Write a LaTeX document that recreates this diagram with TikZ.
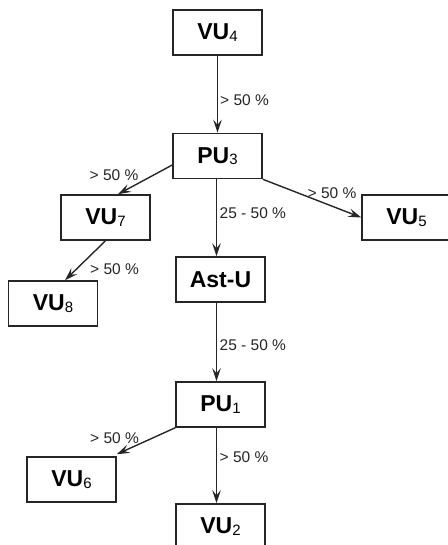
\documentclass[tikz,border=0pt]{standalone}
\usepackage{fontspec}
\setmainfont{Liberation Sans}
\usetikzlibrary{arrows.meta}
\newcommand{\unitsub}[1]{\raisebox{-1.5pt}{\fontsize{15}{15}\selectfont\mdseries #1}}
\tikzset{
  unitbox/.style={draw=black!85, line width=1.5pt, minimum width=89pt, minimum height=45pt,
    inner sep=0pt, font=\fontsize{23}{26}\selectfont\bfseries, text=black},
  flow/.style={draw=black!85, line width=1.4pt, -{Stealth[length=13pt,width=8.5pt,inset=5pt]}},
  pct/.style={font=\fontsize{15.5}{18}\selectfont, text=black!85, inner sep=0pt}
}
\begin{document}
\begin{tikzpicture}[x=1pt,y=-1pt]
\useasboundingbox (0,0) rectangle (447,545);
\node[unitbox] (VU4) at (217.5,32.5) {VU\unitsub{4}};
\node[unitbox] (PU3) at (217.5,156) {PU\unitsub{3}};
\node[unitbox] (VU7) at (105.5,217.5) {VU\unitsub{7}};
\node[unitbox] (VU5) at (406.5,217.5) {VU\unitsub{5}};
\node[unitbox] (AstU) at (220.5,279.5) {Ast-U};
\node[unitbox] (VU8) at (53,303.5) {VU\unitsub{8}};
\node[unitbox] (PU1) at (220.5,404.5) {PU\unitsub{1}};
\node[unitbox] (VU6) at (71.5,479.5) {VU\unitsub{6}};
\node[unitbox] (VU2) at (220.5,526.5) {VU\unitsub{2}};

\draw[flow] (VU4.south) -- (PU3.north);
\draw[flow] ([yshift=-9pt]PU3.west) -- ([xshift=12.5pt]VU7.north);
\draw[flow] (PU3.south east) -- (VU5.west);
\draw[flow] ([xshift=-1pt]PU3.south) -- ([xshift=-1pt]PU3.south |- AstU.north);
\draw[flow] (VU7.south) -- ([xshift=12pt]VU8.north);
\draw[flow] ([xshift=-1pt]PU3.south |- AstU.south) -- ([xshift=-1pt]PU3.south |- PU1.north);
\draw[flow] (PU1.south west) -- ([yshift=2pt]VU6.north east);
\draw[flow] ([xshift=-1pt]PU3.south |- PU1.south) -- ([xshift=-1pt]PU3.south |- VU2.north);

\node[pct, anchor=west] (l1) at (220,100) {> 50 \%};
\node[pct] (l2) at (114,175) {> 50 \%};
\node[pct] (l3) at (332,193) {> 50 \%};
\node[pct, anchor=west] (l4) at (219.5,213) {25 - 50 \%};
\node[pct] (l5) at (114.5,269) {> 50 \%};
\node[pct, anchor=west] (l6) at (219.5,345) {25 - 50 \%};
\node[pct] (l7) at (114.5,438) {> 50 \%};
\node[pct, anchor=west] (l8) at (219.5,457) {> 50 \%};
\end{tikzpicture}
\end{document}
